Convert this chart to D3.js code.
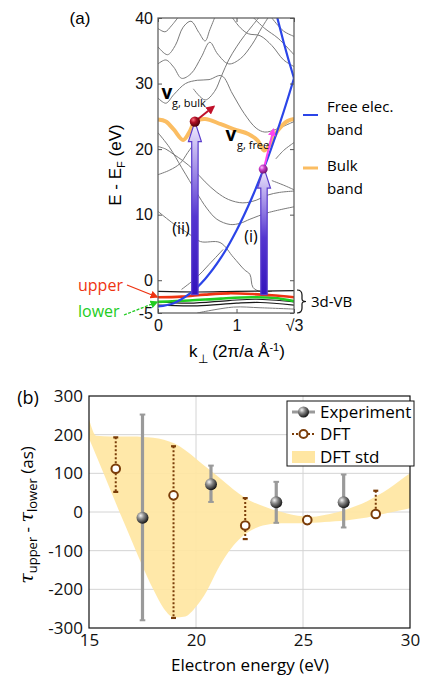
<!DOCTYPE html>
<html><head><meta charset="utf-8">
<script src="https://cdn.jsdelivr.net/npm/d3@7"></script>
<style>body{margin:0;background:#fff}svg{display:block}</style>
</head><body>
<svg id="c" width="425" height="677"></svg>
<script>
// ---------------- DATA: panel (a) ----------------
const kTicks = [0, 1, Math.sqrt(3)];
const kTickLabels = ["0", "1", "√3"];
const eTicks = [40, 30, 20, 10, 0, -5];
const eTickLabels = ["40", "30", "20", "10", "0", "-5"];

const freeBandLower = [[0,-4],[0.2,-3.5],[0.4,-2.1],[0.6,0.2],[0.8,3.4],[1.0,7.6],[1.2,12.7],[1.4,18.7],[1.6,25.7],[1.732,30.8]];
const freeBandFolded = [[1.732,30.8],[1.66,33.7],[1.6,36.3],[1.52,40]];
const bulkBand = [[0,24.5],[0.1,24.2],[0.2,23],[0.32,21.4],[0.4,22.6],[0.47,24.2],[0.6,24.6],[0.8,23.8],[1.0,22.9],[1.15,22.3],[1.27,21.3],[1.35,19.8],[1.42,20.6],[1.53,22.9],[1.65,24.3],[1.732,24.6]];

const grayBandA = [[0,38.4],[0.09,37.9],[0.17,38.8],[0.25,40]];
const grayBandB = [[0,35.6],[0.12,34.4],[0.22,35.8],[0.32,38.6],[0.42,39.5],[0.52,37.8],[0.6,36.5],[0.66,38.2],[0.72,40]];
const grayBandC = [[0,33],[0.1,33.6],[0.2,32.5],[0.3,30.8],[0.42,31.5],[0.55,34],[0.66,36.3],[0.76,34.5],[0.9,33],[1.05,33.8],[1.2,36],[1.32,38.5],[1.4,40]];
const grayBandD = [[0,27.8],[0.1,27],[0.2,28.3],[0.35,30],[0.5,30.5],[0.65,30.6],[0.81,31.2],[0.95,28.4],[1.1,25.4],[1.25,23.2],[1.36,22.6],[1.5,23],[1.62,23.6],[1.732,24.2]];
const grayBandE = [[0.45,29.2],[0.6,27.5],[0.72,28.8],[0.81,31.2],[0.9,33.6],[1.0,35.6],[1.1,37.3],[1.2,38.8],[1.28,40]];
const grayBandF = [[1.22,40],[1.36,38.4],[1.53,36.9],[1.732,34.4]];
const grayBandG = [[1.45,40],[1.6,38],[1.732,37.2]];
const grayBandH = [[0.95,40],[1.05,38.5],[1.15,37.6],[1.3,37.3],[1.45,35.8],[1.6,33.6],[1.732,32.6]];
const grayBandI = [[1.5,18.5],[1.6,19.8],[1.732,21]];
const grayBandJ = [[1.45,15.2],[1.6,14.5],[1.732,13.8]];
const grayBandK = [[0,16.1],[0.15,16.8],[0.28,17.8],[0.38,19.5],[0.47,21]];
const grayBandL = [[0,20.4],[0.1,20],[0.2,19.2],[0.32,18.2],[0.45,16.9],[0.6,15],[0.75,13.4],[0.9,12.3],[1.08,11.8],[1.25,12.2],[1.4,13],[1.55,13.4],[1.732,13.6]];
const grayBandM = [[0,22.5],[0.15,20.2],[0.3,17.2],[0.4,15.2],[0.49,13.4],[0.62,11],[0.75,9.3],[0.92,8.5],[1.05,8.7],[1.17,9.3],[1.4,10.3],[1.732,11.2]];
const grayBandN = [[0,10.5],[0.2,8.6],[0.38,7.2],[0.54,5.9],[0.79,5.75],[0.96,3.5],[1.1,1.6],[1.17,0.9],[1.21,-1.1],[1.3,-1.7],[1.45,-1.7]];
const grayBandO = [[0.3,-1.4],[0.49,0.4],[0.65,2.4],[0.83,4.7]];
const grayBandP = [[0.5,-5],[0.96,-4.1],[1.3,-4.2],[1.732,-4.4]];
const grayBands = [grayBandA,grayBandB,grayBandC,grayBandD,grayBandE,grayBandF,grayBandG,grayBandH,grayBandI,grayBandJ,grayBandK,grayBandL,grayBandM,grayBandN,grayBandO,grayBandP];

const blackBand1 = [[0,-1.7],[0.5,-1.8],[1.0,-1.7],[1.732,-1.6]];
const blackBand2 = [[0,-3.3],[0.4,-3.5],[0.9,-3.1],[1.25,-2.9],[1.732,-3.3]];
const blackBand3 = [[0,-3.8],[0.5,-3.9],[1.0,-3.5],[1.3,-3.4],[1.732,-3.8]];
const blackBands = [blackBand1, blackBand2, blackBand3];
const upperBand = [[0,-2.6],[0.3,-2.5],[0.6,-2.2],[0.9,-2.0],[1.2,-2.1],[1.45,-2.3],[1.732,-2.6]];
const lowerBand = [[0,-3.3],[0.4,-3.1],[0.8,-2.8],[1.2,-2.6],[1.5,-2.7],[1.732,-3.2]];

const transitionLabels = ["(ii)", "(i)"];
const transitionK = [0.47, 1.35];
const transitionFrom = [-2.2, -2.2];
const transitionTo = [24.2, 17.1];
const vBulkFrom = [0.47, 24.2], vBulkTo = [0.71, 26.5];
const vFreeFrom = [1.36, 17.6], vFreeTo = [1.47, 23.0];

// ---------------- DATA: panel (b) ----------------
const tauTicks = [-300,-200,-100,0,100,200,300];
const energyTicks = [15,20,25,30];
const expE   = [17.5, 20.7, 23.75, 26.9];
const expVal = [-15, 72, 25, 25];
const expHi  = [252, 120, 78, 97];
const expLo  = [-280, 26, -28, -40];
const dftE   = [16.25, 18.95, 22.3, 25.2, 28.4];
const dftVal = [112, 43, -35, -21, -5];
const dftHi  = [193, 170, 36, -11, 55];
const dftLo  = [52, -274, -70, -30, -5];
const stdE     = [15,15.35,16,16.5,17,17.5,18,18.5,19,19.5,20,20.5,21,21.5,22,22.5,23,23.5,24,24.5,25,25.5,26,26.5,27,27.5,28,28.5,29,29.5,30];
const stdUpper = [240,197,195,195,195,194,192,187,177,160,138,115,93,70,48,30,18,8,0,-7,-11,-12,-8,-2,6,16,28,43,60,80,100];
const stdLower = [190,144,57,-10,-75,-140,-200,-250,-273,-270,-245,-205,-150,-105,-72,-50,-37,-31,-29,-29,-29,-28,-26,-24,-22,-18,-14,-8,-2,4,10];
const legendLabels = ["Experiment", "DFT", "DFT std"];

// ---------------- DRAW ----------------
const svg = d3.select("#c");
const defs = svg.append("defs");
const AR = "Liberation Sans, Arial, sans-serif";
const OS = "Open Sans, sans-serif";

function radial(id, c0, c1, c2){
  const g = defs.append("radialGradient").attr("id", id).attr("cx","35%").attr("cy","32%").attr("r","70%");
  g.append("stop").attr("offset","0").attr("stop-color", c0);
  g.append("stop").attr("offset","0.4").attr("stop-color", c1);
  g.append("stop").attr("offset","1").attr("stop-color", c2);
}
radial("sph", "#f4f4f4", "#8a8a8a", "#151515");
radial("sphRed", "#ff7080", "#b01025", "#4a0008");
radial("sphMag", "#ffc0ff", "#c83cc8", "#6a106a");
const lg = defs.append("linearGradient").attr("id","purp").attr("x1",0).attr("y1",1).attr("x2",0).attr("y2",0);
lg.append("stop").attr("offset","0").attr("stop-color","#3414bc");
lg.append("stop").attr("offset","0.45").attr("stop-color","#5536d0");
lg.append("stop").attr("offset","0.8").attr("stop-color","#b8a8ee");
lg.append("stop").attr("offset","1").attr("stop-color","#f4f0fd");
function marker(id, color, size){
  defs.append("marker").attr("id", id).attr("markerUnits","userSpaceOnUse")
    .attr("markerWidth", size).attr("markerHeight", size).attr("refX", size*0.8).attr("refY", size/2)
    .attr("orient","auto").append("path")
    .attr("d", `M0,0 L${size},${size/2} L0,${size} z`).attr("fill", color);
}
marker("mRed", "#c0102a", 9);
marker("mMag", "#ff44ee", 8);
marker("mUp", "#ee3311", 8);
marker("mLow", "#22cc22", 8);

// ===== Panel (a) =====
const xa = d3.scaleLinear().domain([0, Math.sqrt(3)]).range([158, 294]);
const ya = d3.scaleLinear().domain([-5, 40]).range([313, 18]);
defs.append("clipPath").attr("id","clipA").append("rect")
  .attr("x", xa(0)).attr("y", ya(40)).attr("width", xa(Math.sqrt(3))-xa(0)).attr("height", ya(-5)-ya(40));
const lineA = d3.line().x(d => xa(d[0])).y(d => ya(d[1])).curve(d3.curveCatmullRom.alpha(0.5));
const pa = svg.append("g").attr("clip-path","url(#clipA)");

pa.selectAll("path.gray").data(grayBands).join("path").attr("class","gray")
  .attr("d", lineA).attr("fill","none").attr("stroke","#7a7a7a").attr("stroke-width",1);
pa.selectAll("path.black").data(blackBands).join("path").attr("class","black")
  .attr("d", lineA).attr("fill","none").attr("stroke","#1a1a1a").attr("stroke-width",1.2);
pa.append("path").datum(bulkBand).attr("d", lineA).attr("fill","none")
  .attr("stroke","#fbbd62").attr("stroke-width",4);
pa.append("path").datum(lowerBand).attr("d", lineA).attr("fill","none").attr("stroke","#22cc22").attr("stroke-width",2.6);
pa.append("path").datum(upperBand).attr("d", lineA).attr("fill","none").attr("stroke","#ee3311").attr("stroke-width",2.6);
pa.append("path").datum(freeBandLower).attr("d", lineA).attr("fill","none").attr("stroke","#2b45e8").attr("stroke-width",2.2);
pa.append("path").datum(freeBandFolded).attr("d", d3.line().x(d=>xa(d[0])).y(d=>ya(d[1]))).attr("fill","none").attr("stroke","#2b45e8").attr("stroke-width",2.2);

// transition arrows
transitionK.forEach((k, i) => {
  const x = xa(k), y0 = ya(transitionFrom[i]), y1 = ya(transitionTo[i]);
  const headH = 20, headW = 6.5, sw = 3.2;
  svg.append("path")
    .attr("d", `M${x},${y1} L${x+headW},${y1+headH} L${x+sw},${y1+headH} L${x+sw},${y0} L${x-sw},${y0} L${x-sw},${y1+headH} L${x-headW},${y1+headH} Z`)
    .attr("fill","url(#purp)").attr("stroke","#5a3ccc").attr("stroke-width",1.2).attr("stroke-linejoin","miter");
});
// group velocity arrows and dots
svg.append("line").attr("x1", xa(vBulkFrom[0])).attr("y1", ya(vBulkFrom[1]))
  .attr("x2", xa(vBulkTo[0])).attr("y2", ya(vBulkTo[1])).attr("stroke","#c0102a").attr("stroke-width",2).attr("marker-end","url(#mRed)");
svg.append("line").attr("x1", xa(vFreeFrom[0])).attr("y1", ya(vFreeFrom[1]))
  .attr("x2", xa(vFreeTo[0])).attr("y2", ya(vFreeTo[1])).attr("stroke","#ff44ee").attr("stroke-width",2).attr("marker-end","url(#mMag)");
svg.append("circle").attr("cx", xa(transitionK[0])).attr("cy", ya(transitionTo[0])).attr("r",5.2).attr("fill","url(#sphRed)");
svg.append("circle").attr("cx", xa(transitionK[1]-0.01)).attr("cy", ya(transitionTo[1])+1).attr("r",4.5).attr("fill","url(#sphMag)");

// frame and ticks
svg.append("rect").attr("x", xa(0)).attr("y", ya(40)).attr("width", xa(Math.sqrt(3))-xa(0)).attr("height", ya(-5)-ya(40))
  .attr("fill","none").attr("stroke","#555").attr("stroke-width",1.2);
function styleAxis(g, font, size){
  g.select(".domain").remove();
  g.selectAll(".tick line").attr("stroke","#555");
  g.selectAll(".tick text").attr("font-family", font).attr("font-size", size).attr("fill","#111");
}
svg.append("g").attr("transform",`translate(${xa(0)},0)`)
  .call(d3.axisLeft(ya).tickValues(eTicks).tickFormat((d,i)=>eTickLabels[i]).tickSizeInner(-4).tickSizeOuter(0).tickPadding(5))
  .call(g => styleAxis(g, AR, 16));
svg.append("g").attr("transform",`translate(${xa(Math.sqrt(3))},0)`)
  .call(d3.axisRight(ya).tickValues(eTicks).tickFormat("").tickSizeInner(-4).tickSizeOuter(0))
  .call(g => styleAxis(g, AR, 16));
svg.append("g").attr("transform",`translate(0,${ya(-5)})`)
  .call(d3.axisBottom(xa).tickValues(kTicks).tickFormat((d,i)=>kTickLabels[i]).tickSizeInner(-4).tickSizeOuter(0).tickPadding(7))
  .call(g => styleAxis(g, AR, 16));
svg.append("g").attr("transform",`translate(0,${ya(40)})`)
  .call(d3.axisTop(xa).tickValues(kTicks).tickFormat("").tickSizeInner(-4).tickSizeOuter(0))
  .call(g => styleAxis(g, AR, 16));

// labels panel a
svg.append("text").attr("x",80).attr("y",24).attr("text-anchor","middle").attr("font-family",AR).attr("font-size",17).text("(a)");
const yl = svg.append("text").attr("transform","translate(121,165) rotate(-90)").attr("text-anchor","middle")
  .attr("font-family",AR).attr("font-size",17);
yl.append("tspan").text("E - E");
yl.append("tspan").attr("font-size",11).attr("dy",4).text("F");
yl.append("tspan").attr("dy",-4).text(" (eV)");
const xl = svg.append("text").attr("x",237).attr("y",357).attr("text-anchor","middle").attr("font-family",AR).attr("font-size",17);
xl.append("tspan").text("k");
xl.append("tspan").attr("font-size",12).attr("dy",6).text("⊥");
xl.append("tspan").attr("dy",-6).text(" (2π/a Å");
xl.append("tspan").attr("font-size",11).attr("dy",-6).text("-1");
xl.append("tspan").attr("dy",6).text(")");

svg.append("text").attr("x",167).attr("y",99).attr("text-anchor","middle").attr("font-family",OS).attr("font-weight","bold").attr("font-size",19).text("v");
svg.append("text").attr("x",172).attr("y",107).attr("font-family",OS).attr("font-size",11).text("g, bulk");
svg.append("text").attr("x",231).attr("y",141).attr("text-anchor","middle").attr("font-family",OS).attr("font-weight","bold").attr("font-size",19).text("v");
svg.append("text").attr("x",237).attr("y",149).attr("font-family",OS).attr("font-size",11).text("g, free");
svg.append("text").attr("x",181).attr("y",234).attr("text-anchor","middle").attr("font-family",OS).attr("font-size",16).text(transitionLabels[0]);
svg.append("text").attr("x",251).attr("y",242).attr("text-anchor","middle").attr("font-family",OS).attr("font-size",16).text(transitionLabels[1]);

svg.append("text").attr("x",78).attr("y",291).attr("font-family",OS).attr("font-size",16).attr("fill","#ee3311").text("upper");
svg.append("line").attr("x1",127).attr("y1",285).attr("x2",157).attr("y2",297).attr("stroke","#ee3311").attr("stroke-width",1.3).attr("marker-end","url(#mUp)");
svg.append("text").attr("x",78).attr("y",317).attr("font-family",OS).attr("font-size",16).attr("fill","#22cc22").text("lower");
svg.append("line").attr("x1",124).attr("y1",315).attr("x2",157).attr("y2",302).attr("stroke","#22cc22").attr("stroke-width",1.3).attr("stroke-dasharray","3,1.5").attr("marker-end","url(#mLow)");

svg.append("path").attr("d","M297,290 Q302,290 302,295 L302,299 Q302,301.5 306,301.5 Q302,301.5 302,304 L302,308 Q302,313 297,313")
  .attr("fill","none").attr("stroke","#111").attr("stroke-width",1.2);
svg.append("text").attr("x",311).attr("y",307).attr("font-family",OS).attr("font-size",15).text("3d-VB");

svg.append("line").attr("x1",303).attr("x2",318).attr("y1",115).attr("y2",115).attr("stroke","#2b45e8").attr("stroke-width",2);
svg.append("text").attr("x",327).attr("y",112).attr("font-family",OS).attr("font-size",15).text("Free elec.");
svg.append("text").attr("x",327).attr("y",135).attr("font-family",OS).attr("font-size",15).text("band");
svg.append("line").attr("x1",303).attr("x2",318).attr("y1",168).attr("y2",168).attr("stroke","#fbbd62").attr("stroke-width",3);
svg.append("text").attr("x",327).attr("y",171).attr("font-family",OS).attr("font-size",15).text("Bulk");
svg.append("text").attr("x",327).attr("y",194).attr("font-family",OS).attr("font-size",15).text("band");

// ===== Panel (b) =====
const xb = d3.scaleLinear().domain([15,30]).range([89,410]);
const yb = d3.scaleLinear().domain([-300,300]).range([628,396]);
const gb = svg.append("g");
defs.append("clipPath").attr("id","clipB").append("rect").attr("x",xb(15)).attr("y",yb(300)).attr("width",xb(30)-xb(15)).attr("height",yb(-300)-yb(300));
gb.append("g").selectAll("line").data(tauTicks.slice(1,-1)).join("line")
  .attr("x1",xb(15)).attr("x2",xb(30)).attr("y1",d=>yb(d)).attr("y2",d=>yb(d)).attr("stroke","#d4d4d4").attr("stroke-width",1);
gb.append("g").selectAll("line").data(energyTicks.slice(1,-1)).join("line")
  .attr("y1",yb(300)).attr("y2",yb(-300)).attr("x1",d=>xb(d)).attr("x2",d=>xb(d)).attr("stroke","#d4d4d4").attr("stroke-width",1);
const stdData = stdE.map((e,i)=>({e, hi: stdUpper[i], lo: stdLower[i]}));
gb.append("path").datum(stdData).attr("clip-path","url(#clipB)")
  .attr("d", d3.area().x(d=>xb(d.e)).y0(d=>yb(d.lo)).y1(d=>yb(d.hi)).curve(d3.curveMonotoneX))
  .attr("fill","#ffe6a2").attr("opacity",0.92);

// DFT error bars
dftE.forEach((e,i)=>{
  gb.append("line").attr("x1",xb(e)).attr("x2",xb(e)).attr("y1",yb(dftHi[i])).attr("y2",yb(dftLo[i]))
    .attr("stroke","#7a3c08").attr("stroke-width",2).attr("stroke-dasharray","2,2");
  [dftHi[i], dftLo[i]].forEach(v=>{
    if (v !== dftVal[i]) gb.append("line").attr("x1",xb(e)-2.5).attr("x2",xb(e)+2.5).attr("y1",yb(v)).attr("y2",yb(v))
      .attr("stroke","#7a3c08").attr("stroke-width",2.2);
  });
});
// Experiment error bars
expE.forEach((e,i)=>{
  gb.append("line").attr("x1",xb(e)).attr("x2",xb(e)).attr("y1",yb(expHi[i])).attr("y2",yb(expLo[i]))
    .attr("stroke","#9a9a9a").attr("stroke-width",3.2);
  [expHi[i], expLo[i]].forEach(v=>gb.append("line").attr("x1",xb(e)-2.8).attr("x2",xb(e)+2.8).attr("y1",yb(v)).attr("y2",yb(v))
      .attr("stroke","#9a9a9a").attr("stroke-width",2));
});
gb.selectAll("circle.dft").data(dftE).join("circle").attr("class","dft")
  .attr("cx",d=>xb(d)).attr("cy",(d,i)=>yb(dftVal[i])).attr("r",4.3)
  .attr("fill","#fff").attr("stroke","#7a3c08").attr("stroke-width",2);
gb.selectAll("circle.exp").data(expE).join("circle").attr("class","exp")
  .attr("cx",d=>xb(d)).attr("cy",(d,i)=>yb(expVal[i])).attr("r",6).attr("fill","url(#sph)");

// frame
gb.append("rect").attr("x",xb(15)).attr("y",yb(300)).attr("width",xb(30)-xb(15)).attr("height",yb(-300)-yb(300))
  .attr("fill","none").attr("stroke","#111").attr("stroke-width",1.2);
gb.append("g").attr("transform",`translate(${xb(15)},0)`)
  .call(d3.axisLeft(yb).tickValues(tauTicks).tickFormat(d3.format("d")).tickSize(0).tickPadding(6))
  .call(g => styleAxis(g, OS, 17));
gb.append("g").attr("transform",`translate(0,${yb(-300)})`)
  .call(d3.axisBottom(xb).tickValues(energyTicks).tickFormat(d3.format("d")).tickSize(0).tickPadding(6))
  .call(g => styleAxis(g, OS, 17));
gb.selectAll(".tick text").text(function(){ return this.textContent.replace("−","-"); });

svg.append("text").attr("x",28).attr("y",404).attr("text-anchor","middle").attr("font-family",OS).attr("font-size",18).text("(b)");
svg.append("text").attr("x",250).attr("y",671).attr("text-anchor","middle").attr("font-family",OS).attr("font-size",17).text("Electron energy (eV)");
const tl = svg.append("text").attr("transform","translate(33,515) rotate(-90)").attr("text-anchor","middle")
  .attr("font-family",OS).attr("font-size",17);
tl.append("tspan").attr("font-style","italic").attr("font-family","DejaVu Serif, serif").attr("font-size",19).text("τ");
tl.append("tspan").attr("font-size",13).attr("dy",4).text("upper");
tl.append("tspan").attr("dy",-4).text(" - ");
tl.append("tspan").attr("font-style","italic").attr("font-family","DejaVu Serif, serif").attr("font-size",19).text("τ");
tl.append("tspan").attr("font-size",13).attr("dy",4).text("lower");
tl.append("tspan").attr("dy",-4).text(" (as)");

// legend (b)
const lgB = svg.append("g");
lgB.append("rect").attr("x",287).attr("y",401).attr("width",127).attr("height",65).attr("fill","#fff").attr("stroke","#111").attr("stroke-width",1);
const legY = [412, 434, 457];
lgB.append("line").attr("x1",292).attr("x2",315).attr("y1",legY[0]).attr("y2",legY[0]).attr("stroke","#9a9a9a").attr("stroke-width",3);
lgB.append("circle").attr("cx",303.5).attr("cy",legY[0]).attr("r",5.5).attr("fill","url(#sph)");
lgB.append("line").attr("x1",292).attr("x2",315).attr("y1",legY[1]).attr("y2",legY[1]).attr("stroke","#7a3c08").attr("stroke-width",2).attr("stroke-dasharray","2,2");
lgB.append("circle").attr("cx",303.5).attr("cy",legY[1]).attr("r",4).attr("fill","#fff").attr("stroke","#7a3c08").attr("stroke-width",2);
lgB.append("rect").attr("x",292).attr("y",legY[2]-6).attr("width",23).attr("height",12).attr("fill","#ffe6a2");
lgB.selectAll("text").data(legendLabels).join("text").attr("x",320).attr("y",(d,i)=>legY[i]+6)
  .attr("font-family",OS).attr("font-size",17).text(d=>d);
</script>
</body></html>
